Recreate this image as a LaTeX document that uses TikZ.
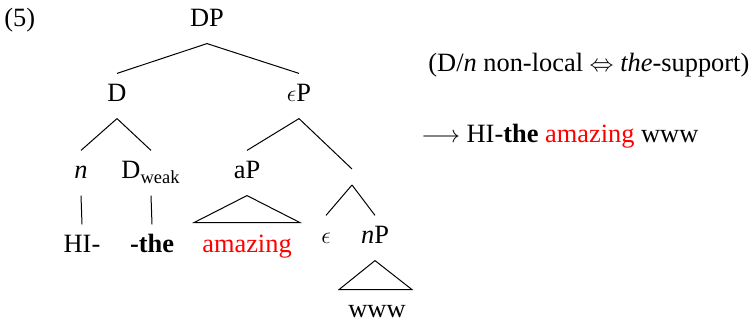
\documentclass[tikz,border=0pt]{standalone}
\usepackage{fontspec}
\setmainfont{Liberation Serif}
\usepackage{amsmath}
\usepackage{amssymb}
\usetikzlibrary{
  arrows.meta,
  positioning,
  calc
}
\definecolor{synRed}{HTML}{FF0000}
\definecolor{synInk}{HTML}{000000}
\tikzset{
  synnode/.style={
    font=\fontsize{13.2}{15}\selectfont, text height=8.8pt, text depth=2.8pt,
    inner sep=0pt, outer sep=5.5pt, anchor=center, text=synInk
  },
  synleaf/.style={synnode},
  synhide/.style={inner sep=0pt, outer sep=0pt, minimum height=8pt, minimum width=0pt},
  synline/.style={draw=synInk, line width=0.5pt},
  syntri/.style={synline, line join=miter},
  synnote/.style={font=\fontsize{13.2}{15}\selectfont, inner sep=0pt, anchor=base west},
  synex/.style={font=\fontsize{13.2}{15}\selectfont, inner sep=0pt, anchor=base west}
}
\begin{document}
\begin{tikzpicture}[x=0.5pt, y=-0.5pt]
  \useasboundingbox (0,0) rectangle (756,325);
  \node[synex] (ex) at (4,27) {(5)};
  \node[synnode] (dp) at (207,21) {DP};
  \node[synnode] (d) at (117,96) {D};
  \node[synnode] (ep) at (299,96) {$\epsilon$P};
  \node[synnode] (n) at (81,173) {\textit{n}};
  \node[synnode] (dw) at (151,173) {D$_{\text{weak}}$};
  \node[synnode] (ap) at (247,173) {aP};
  \node[synhide] (mid) at (352,177) {};
  \node[synleaf] (hi) at (82,247) {HI-};
  \node[synleaf] (the) at (152,247) {\textbf{-the}};
  \node[synleaf, text=synRed] (amz) at (247,247) {amazing};
  \node[synnode] (eps) at (326,238) {$\epsilon$};
  \node[synnode] (np) at (375,238) {\textit{n}P};
  \node[synleaf] (www) at (377,312) {www};
  \node[synnote] (cond) at (428,72) {(D/\textit{n} non-local $\Leftrightarrow$ \textit{the}-support)};
  \node[synnote] (out) at (421,143) {$\longrightarrow$ HI-\textbf{the} \textcolor{synRed}{amazing} www};
  \draw[synline] (dp.south) -- (d.north);
  \draw[synline] (dp.south) -- (ep.north);
  \draw[synline] (d.south) -- (n.north);
  \draw[synline] (d.south) -- (dw.north);
  \draw[synline] (ep.south) -- (ap.north);
  \draw[synline] (ep.south) -- (mid.north);
  \draw[synline] (n.south) -- (hi.north);
  \draw[synline] (dw.south) -- (the.north);
  \draw[synline] (mid.south) -- (eps.north);
  \draw[synline] (mid.south) -- (np.north);
  \draw[syntri] (ap.south) -- ++(-53,27) -- ++(106,0) -- cycle;
  \draw[syntri] (np.south) -- ++(-36,29) -- ++(73,0) -- cycle;
\end{tikzpicture}
\end{document}
